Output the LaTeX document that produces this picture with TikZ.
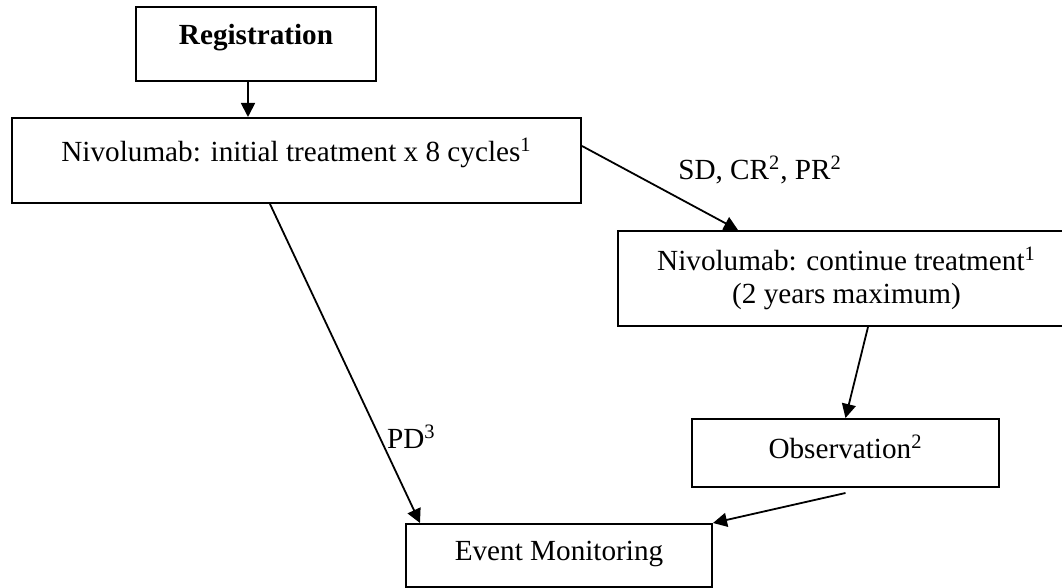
\documentclass[tikz,border=0pt]{standalone}
\usepackage{fontspec}
\setmainfont{Liberation Serif}
\usetikzlibrary{arrows.meta,calc,positioning}

\begin{document}
\begin{tikzpicture}[x=0.5pt,y=-0.5pt,
  box/.style={draw,line width=1pt,inner sep=0pt,align=center},
  arr/.style={-{Triangle[length=7pt,width=7pt]},line width=0.9pt},
  every node/.style={font=\fontsize{14.6}{16.6}\selectfont}]
  \useasboundingbox (0,0) rectangle (1062,588);
  \node[box,minimum width=120pt,minimum height=37pt,text depth=10pt] (reg) at (256,44) {\textbf{Registration}};
  \node[box,minimum width=284.5pt,minimum height=42.5pt,text depth=11pt] (init) at ($(reg) + (40.5,116.5)$) {Nivolumab: initial treatment x 8 cycles\textsuperscript{1}};
  \node[box,minimum width=228.5pt,minimum height=47.5pt] (cont) at (846.5,278.5) {Nivolumab: continue treatment\textsuperscript{1}\\(2 years maximum)};
  \node[box,minimum width=153.5pt,minimum height=34pt,text depth=6pt] (obs) at ($(cont) + (-1,174.5)$) {Observation\textsuperscript{2}};
  \node[box,minimum width=153pt,minimum height=31.5pt,text depth=5pt] (event) at (559,555.5) {Event Monitoring};

  \draw[arr] ([xshift=-4pt]reg.south) -- ([xshift=-4pt]reg.south |- init.north);
  \draw[arr] ([yshift=7.25pt]init.east) -- node[pos=0.4,anchor=base west,xshift=16.5pt,inner sep=0pt] (resp) {SD, CR\textsuperscript{2}, PR\textsuperscript{2}} ([xshift=-54.25pt]cont.north);
  \draw[arr] ([xshift=-13.25pt]init.south) -- node[pos=0.73,right] (pd) {PD\textsuperscript{3}} ([xshift=-69.5pt]event.north);
  \draw[arr] ([xshift=10.75pt]cont.south) -- (obs.north);
  \draw[arr] ([yshift=-2.5pt]obs.south) -- (event.north east);
\end{tikzpicture}
\end{document}
